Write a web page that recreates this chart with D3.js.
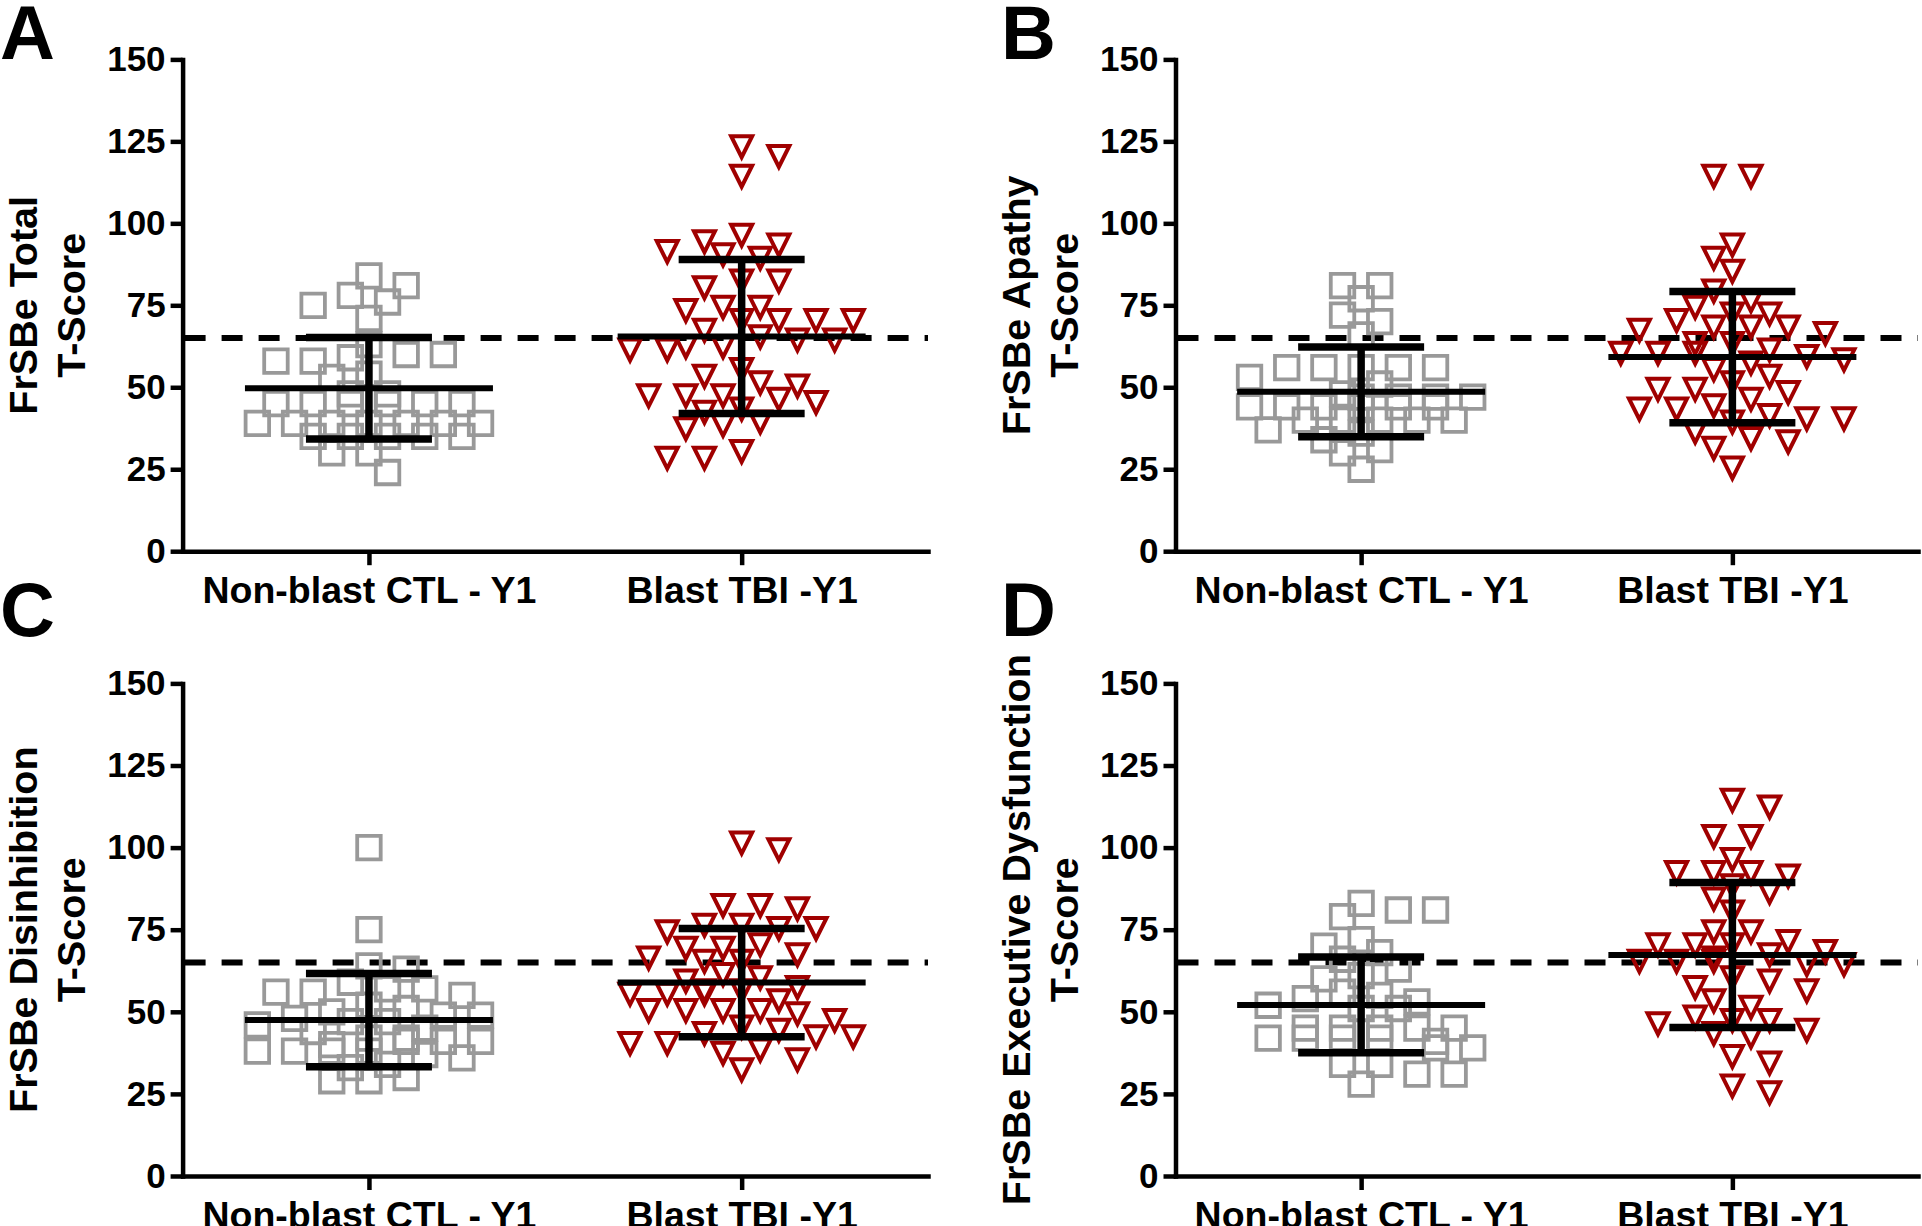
<!DOCTYPE html>
<html>
<head>
<meta charset="utf-8">
<script src="https://cdn.jsdelivr.net/npm/d3@7"></script>
<style>
  body { margin: 0; background: #fff; }
  svg { display: block; font-family: "Liberation Sans", Arial, sans-serif; font-weight: bold; }
</style>
</head>
<body>
<svg id="chart" width="1922" height="1226"></svg>
<script>
// categories and axis ticks
const groups = ["Non-blast CTL - Y1", "Blast TBI -Y1"];
const yTicks = [0, 25, 50, 75, 100, 125, 150];
const cutoff = 65;

// T-scores, one array per panel and group
const totalCtl = [84, 81, 78, 76, 75, 71, 63, 60, 60, 59, 58, 58, 54, 53, 48, 48, 45, 45, 45, 45, 45, 45,
  39, 39, 39, 39, 39, 39, 39, 35, 35, 35, 35, 35, 30, 30, 24];
const totalBlast = [123, 120, 114, 96, 94, 93, 91, 90, 89, 82, 82, 80, 74, 74, 73, 70, 70, 70, 70, 67, 65, 64, 64,
  62, 62, 61, 61, 55, 53, 51, 50, 47, 47, 47, 46, 45, 43, 42, 39, 38, 37, 30, 28, 28];
const apathyCtl = [81, 81, 77, 72, 70, 66, 56, 56, 56, 56, 56, 53, 51, 48, 47, 47, 47, 47, 44, 44, 44, 44, 44, 44,
  40, 40, 40, 40, 40, 37, 36, 34, 31, 30, 25];
const apathyBlast = [114, 114, 93, 89, 85, 79, 76, 74, 72, 72, 70, 68, 68, 68, 67, 66, 63, 63, 61, 60, 60, 60, 59,
  58, 57, 55, 53, 51, 49, 49, 48, 46, 44, 43, 43, 41, 40, 40, 39, 36, 34, 33, 31, 25];
const disinhCtl = [100, 75, 64, 63, 59, 57, 57, 56, 56, 55, 52, 51, 50, 49, 49, 48, 47, 47, 46, 45, 44, 42, 42,
  41, 41, 41, 40, 38, 38, 38, 38, 37, 36, 34, 33, 30, 29, 29];
const disinhBlast = [101, 99, 82, 82, 81, 76, 76, 75, 75, 74, 70, 69, 69, 67, 66, 65, 65, 61, 60, 59, 57, 56, 56,
  55, 55, 55, 53, 50, 50, 50, 50, 49, 47, 45, 44, 43, 42, 42, 40, 40, 38, 37, 35, 32];
const execCtl = [83, 81, 81, 79, 72, 70, 68, 66, 63, 61, 60, 56, 55, 54, 53, 52, 51, 51, 45, 45, 45, 45, 45,
  42, 42, 42, 42, 41, 39, 39, 34, 34, 31, 31, 28];
const execBlast = [114, 112, 103, 103, 96, 92, 92, 92, 91, 88, 86, 84, 80, 74, 74, 71, 70, 70, 70, 68, 67, 66, 65,
  65, 65, 64, 64, 60, 59, 57, 56, 53, 51, 48, 47, 47, 46, 44, 43, 42, 36, 34, 27, 25];

// mean and SD bars as drawn (A, B, C, D)
const ctlMean = [49.7, 48.6, 47.5, 52.1];
const ctlSD = [15.5, 13.7, 14.2, 14.6];
const blastMean = [65.5, 59.2, 58.9, 67.3];
const blastSD = [23.5, 20.0, 16.5, 22.1];

const letters = ["A", "B", "C", "D"];
const titles = [
  ["FrSBe Total", "T-Score"],
  ["FrSBe Apathy", "T-Score"],
  ["FrSBe Disinhibition", "T-Score"],
  ["FrSBe Executive Dysfunction", "T-Score"]
];
const ctlData = [totalCtl, apathyCtl, disinhCtl, execCtl];
const blastData = [totalBlast, apathyBlast, disinhBlast, execBlast];

// panel frames
const frames = [
  {left: 182.6, right: 928, top: 59.4, bottom: 551.2, lx: 0, ly: 59},
  {left: 1175.5, right: 1918, top: 59.4, bottom: 551.2, lx: 1001, ly: 59},
  {left: 182.6, right: 928, top: 683.4, bottom: 1176, lx: 0, ly: 636},
  {left: 1175.5, right: 1918, top: 683.4, bottom: 1176, lx: 1001, ly: 636}
];

const gray = "#999999";
const red = "#a00000";
const step = 37.2;   // column spacing of the scatter
const sameGap = 24;  // min vertical distance for two points in the same column
const nearGap = 10;  // ... in neighbouring half columns
const maxSlot = 6;   // widest half-step offset (3 columns each side)

// prism-like column scatter: equal values form a centred row, the row is shifted
// sideways to the least crowded spot, never wider than 7 columns
function swarm(values, cx, y) {
  const half = step / 2;
  const rows = d3.groups(values, v => v).sort((a, b) => b[0] - a[0]);
  const placed = [];
  const hits = (px, py) => d3.sum(placed, p => {
    const dx = Math.abs(p.x - px), dy = Math.abs(p.y - py);
    if (dx < 1) return dy < sameGap ? 1 + (sameGap - dy) / sameGap : 0;
    if (dx < step - 1) return dy < nearGap ? 1 : 0;
    return 0;
  });
  let flip = 1;
  rows.forEach(([v, vs]) => {
    const py = y(v), n = vs.length;
    const pattern = vs.map((_, i) => 2 * i - (n - 1));
    const reach = Math.max(maxSlot, n - 1);
    const shifts = d3.range(-reach, reach + 1)
      .filter(s => Math.abs(s + pattern[0]) <= reach && Math.abs(s + pattern[n - 1]) <= reach)
      .sort((a, b) => Math.abs(a) - Math.abs(b) || flip * (a - b));
    flip = -flip;
    let best = shifts[0], bestCost = Infinity;
    shifts.forEach(s => {
      const cost = d3.sum(pattern, k => hits(cx + (k + s) * half, py));
      if (cost < bestCost - 1e-9) { bestCost = cost; best = s; }
    });
    pattern.forEach(k => placed.push({x: cx + (k + best) * half, y: py, v}));
  });
  return placed;
}

const svg = d3.select("#chart");
svg.append("rect").attr("width", 1922).attr("height", 1226).attr("fill", "#fff");

const squarePath = "M-11.75,-11.75h23.5v23.5h-23.5Z";
const trianglePath = "M-10.5,-11.75L10.5,-11.75L0,9.25Z";

frames.forEach((f, i) => {
  const g = svg.append("g");
  const y = d3.scaleLinear().domain([0, 150]).range([f.bottom, f.top]);
  const x = d3.scalePoint().domain(groups).range([f.left, f.right]).padding(0.5);

  // reference line
  g.append("line")
    .attr("x1", f.left + 2).attr("x2", f.right)
    .attr("y1", y(cutoff)).attr("y2", y(cutoff))
    .attr("stroke", "#000").attr("stroke-width", 6)
    .attr("stroke-dasharray", "21 16");

  // y axis
  const ya = g.append("g")
    .attr("transform", `translate(${f.left},0)`)
    .call(d3.axisLeft(y).tickValues(yTicks).tickSize(12).tickSizeOuter(0).tickPadding(5));
  ya.attr("font-family", null);
  ya.select(".domain").attr("stroke-width", 4.5).attr("stroke-linecap", "square");
  ya.selectAll(".tick line").attr("stroke-width", 4.5);
  ya.selectAll(".tick text")
    .attr("font-size", 35).attr("font-weight", "bold").attr("fill", "#000");

  // x axis
  const xa = g.append("g")
    .attr("transform", `translate(0,${f.bottom})`)
    .call(d3.axisBottom(x).tickSize(14).tickSizeOuter(0).tickPadding(11));
  xa.attr("font-family", null);
  xa.select(".domain").attr("stroke-width", 4.5).attr("stroke-linecap", "square");
  xa.selectAll(".tick line").attr("stroke-width", 4.5);
  xa.selectAll(".tick text")
    .attr("font-size", 37.5).attr("font-weight", "bold").attr("fill", "#000");

  // points
  const sets = [
    {vals: ctlData[i], path: squarePath, color: gray, sw: 3.8, mean: ctlMean[i], sd: ctlSD[i], cx: x(groups[0])},
    {vals: blastData[i], path: trianglePath, color: red, sw: 4, mean: blastMean[i], sd: blastSD[i], cx: x(groups[1])}
  ];
  sets.forEach(s => {
    g.append("g").selectAll("path")
      .data(swarm(s.vals, s.cx, y))
      .join("path")
        .attr("d", s.path)
        .attr("transform", d => `translate(${d.x},${d.y})`)
        .attr("fill", "none")
        .attr("stroke", s.color)
        .attr("stroke-width", s.sw);
  });

  // mean +/- SD
  sets.forEach(s => {
    const bar = g.append("g").attr("stroke", "#000");
    bar.append("line")
      .attr("x1", s.cx).attr("x2", s.cx)
      .attr("y1", y(s.mean + s.sd)).attr("y2", y(s.mean - s.sd))
      .attr("stroke-width", 7.5);
    [s.mean + s.sd, s.mean - s.sd].forEach(v => {
      bar.append("line")
        .attr("x1", s.cx - 63).attr("x2", s.cx + 63)
        .attr("y1", y(v)).attr("y2", y(v))
        .attr("stroke-width", 7.5);
    });
    bar.append("line")
      .attr("x1", s.cx - 124).attr("x2", s.cx + 124)
      .attr("y1", y(s.mean)).attr("y2", y(s.mean))
      .attr("stroke-width", 6);
  });

  // axis title, two lines, rotated
  const cy = (f.top + f.bottom) / 2;
  titles[i].forEach((t, j) => {
    g.append("text")
      .attr("transform", `translate(${f.left - 146 + j * 48},${cy}) rotate(-90)`)
      .attr("text-anchor", "middle")
      .attr("font-size", 39.5)
      .text(t);
  });

  // panel letter
  g.append("text")
    .attr("x", f.lx).attr("y", f.ly)
    .attr("font-size", 76)
    .text(letters[i]);
});
</script>
</body>
</html>
